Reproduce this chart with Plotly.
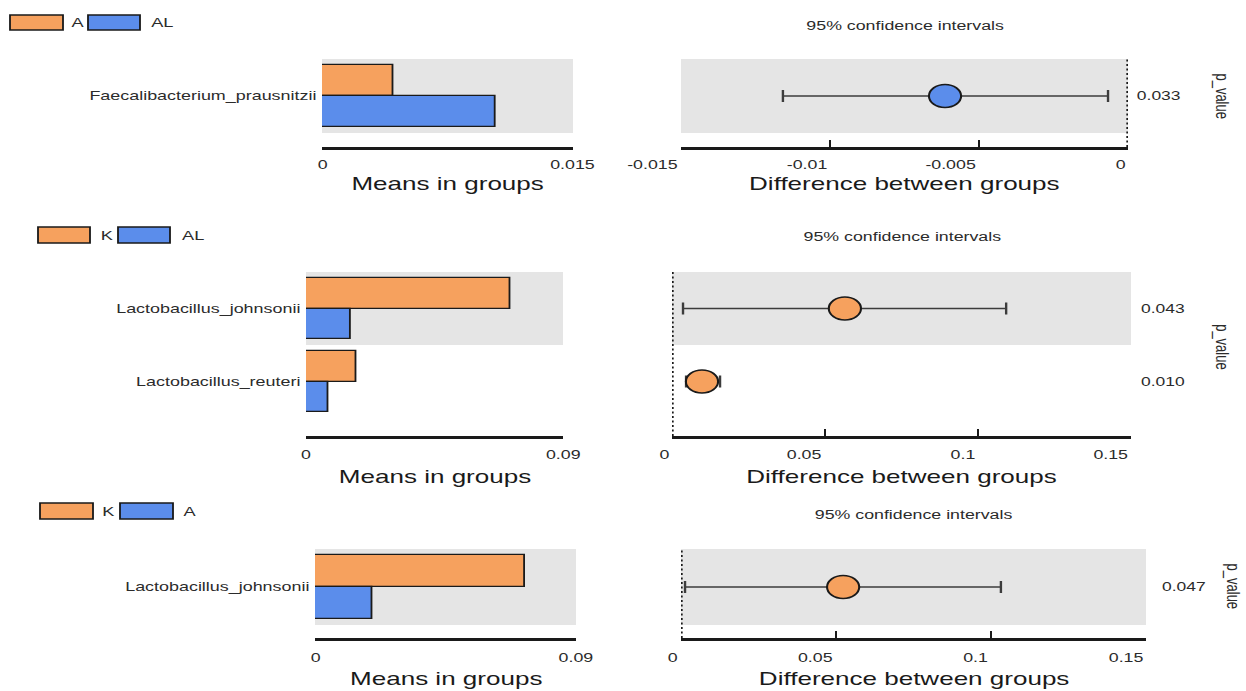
import plotly.graph_objects as go

# ---------------- data ----------------
# Panel 1: A vs AL
groups_1 = ["A", "AL"]
species_1 = ["Faecalibacterium_prausnitzii"]
mean_first_1 = [0.00424]
mean_second_1 = [0.0104]
diff_1 = [-0.00614]
ci_low_1 = [-0.01158]
ci_high_1 = [-0.00067]
pvalue_1 = ["0.033"]
mean_ticks_1 = [0, 0.015]
mean_ticktext_1 = ["0", "0.015"]
diff_ticks_1 = [-0.015, -0.01, -0.005, 0]
diff_ticktext_1 = ["-0.015", "-0.01", "-0.005", "0"]

# Panel 2: K vs AL
groups_2 = ["K", "AL"]
species_2 = ["Lactobacillus_johnsonii", "Lactobacillus_reuteri"]
mean_first_2 = [0.0718, 0.0175]
mean_second_2 = [0.0158, 0.0077]
diff_2 = [0.0565, 0.0098]
ci_low_2 = [0.0036, 0.0046]
ci_high_2 = [0.1092, 0.0157]
pvalue_2 = ["0.043", "0.010"]
mean_ticks_2 = [0, 0.09]
mean_ticktext_2 = ["0", "0.09"]
diff_ticks_2 = [0, 0.05, 0.1, 0.15]
diff_ticktext_2 = ["0", "0.05", "0.1", "0.15"]

# Panel 3: K vs A
groups_3 = ["K", "A"]
species_3 = ["Lactobacillus_johnsonii"]
mean_first_3 = [0.0724]
mean_second_3 = [0.0197]
diff_3 = [0.0523]
ci_low_3 = [0.0013]
ci_high_3 = [0.1032]
pvalue_3 = ["0.047"]
mean_ticks_3 = [0, 0.09]
mean_ticktext_3 = ["0", "0.09"]
diff_ticks_3 = [0, 0.05, 0.1, 0.15]
diff_ticktext_3 = ["0", "0.05", "0.1", "0.15"]

# ---------------- styling ----------------
ORANGE = "#F6A15E"
BLUE = "#5B8DEB"
BAND = "#E5E5E5"
INK = "#1a1a1a"
TXT = "#2b2b2b"
FONT = "Liberation Sans, Arial, sans-serif"

W, H = 1246, 691
STRETCH = 1.4          # horizontal stretch applied to the whole figure
W0 = W / STRETCH


def fx(p):
    return p / W


def fy(p):
    return 1 - p / H


def ax_ref(letter, i):
    return letter if i == 1 else f"{letter}{i}"


def label(**kw):
    base = dict(showarrow=False, xanchor="center", yanchor="middle")
    base.update(kw)
    return base


panels = [
    dict(groups=groups_1, species=species_1, m1=mean_first_1, m2=mean_second_1,
         diff=diff_1, lo=ci_low_1, hi=ci_high_1, pv=pvalue_1,
         mt=mean_ticks_1, mtt=mean_ticktext_1, dt=diff_ticks_1, dtt=diff_ticktext_1,
         bar_x=(322, 573), ci_x=(681, 1128), top=59, band=74, axis=147,
         tick_y=165, title_y=184, ci_title=(905, 26), p_x=1159, pname=(1223, 96),
         legend=((10, 63), (88, 140), 15, 30), leg_txt=(68, 148)),
    dict(groups=groups_2, species=species_2, m1=mean_first_2, m2=mean_second_2,
         diff=diff_2, lo=ci_low_2, hi=ci_high_2, pv=pvalue_2,
         mt=mean_ticks_2, mtt=mean_ticktext_2, dt=diff_ticks_2, dtt=diff_ticktext_2,
         bar_x=(306, 563), ci_x=(672, 1131), top=272, band=73, axis=436,
         tick_y=455, title_y=477, ci_title=(902, 237), p_x=1163, pname=(1222, 347),
         legend=((38, 90), (118, 170), 227, 243), leg_txt=(98, 179)),
    dict(groups=groups_3, species=species_3, m1=mean_first_3, m2=mean_second_3,
         diff=diff_3, lo=ci_low_3, hi=ci_high_3, pv=pvalue_3,
         mt=mean_ticks_3, mtt=mean_ticktext_3, dt=diff_ticks_3, dtt=diff_ticktext_3,
         bar_x=(315, 576), ci_x=(681, 1146), top=549, band=76, axis=638,
         tick_y=658, title_y=678, ci_title=(914, 515), p_x=1184, pname=(1234, 587),
         legend=((40, 93), (120, 173), 503, 519), leg_txt=(100, 181)),
]

fig = go.Figure()
layout = dict(
    width=W0, height=H, autosize=False,
    margin=dict(l=0, r=0, t=0, b=0),
    paper_bgcolor="white", plot_bgcolor="white",
    showlegend=False, font=dict(family=FONT, color=TXT),
    bargap=0, barmode="overlay",
)
shapes, annotations = [], []

axis_common = dict(showgrid=False, zeroline=False, showline=True, linewidth=2.5,
                   linecolor=INK, ticks="inside", ticklen=7, tickwidth=1.5,
                   tickcolor=INK, showticklabels=False, fixedrange=True)

for k, p in enumerate(panels):
    n = len(p["species"])
    idx = [n - 1 - i for i in range(n)]          # first species at the top
    bar_id, ci_id = 2 * k + 1, 2 * k + 2
    xb, yb = ax_ref("x", bar_id), ax_ref("y", bar_id)
    xc, yc = ax_ref("x", ci_id), ax_ref("y", ci_id)

    y_top = n - 0.5
    y_bot = y_top - (p["axis"] - p["top"]) / p["band"]
    ydom = [fy(p["axis"]), fy(p["top"])]

    # ---- means in groups: grouped horizontal bars ----
    fig.add_trace(go.Bar(
        x=p["m1"], y=idx, orientation="h", width=0.415, offset=0,
        marker=dict(color=ORANGE, line=dict(color=INK, width=1.3)),
        name=p["groups"][0], xaxis=xb, yaxis=yb, hoverinfo="skip"))
    fig.add_trace(go.Bar(
        x=p["m2"], y=idx, orientation="h", width=0.415, offset=-0.415,
        marker=dict(color=BLUE, line=dict(color=INK, width=1.3)),
        name=p["groups"][1], xaxis=xb, yaxis=yb, hoverinfo="skip"))

    # ---- difference with 95% CI ----
    colors = [ORANGE if d > 0 else BLUE for d in p["diff"]]
    fig.add_trace(go.Scatter(
        x=p["diff"], y=idx, mode="markers", xaxis=xc, yaxis=yc, hoverinfo="skip",
        marker=dict(size=23, color=colors, line=dict(color=INK, width=1.5)),
        error_x=dict(type="data", symmetric=False,
                     array=[h - d for h, d in zip(p["hi"], p["diff"])],
                     arrayminus=[d - l for d, l in zip(p["diff"], p["lo"])],
                     color="#3c3c3c", thickness=1.7, width=6)))

    mr = [min(p["mt"]), max(p["mt"])]
    dr = [min(p["dt"]), max(p["dt"])]
    layout[ax_ref("xaxis", bar_id)] = dict(axis_common, domain=[fx(p["bar_x"][0]), fx(p["bar_x"][1])],
                                           range=mr, tickvals=p["mt"], anchor=yb)
    layout[ax_ref("yaxis", bar_id)] = dict(domain=ydom, range=[y_bot, y_top], anchor=xb,
                                           showgrid=False, zeroline=False, showline=False,
                                           tickvals=idx, ticktext=p["species"], ticks="",
                                           ticklabelstandoff=3,
                                           tickfont=dict(size=12.8, color=TXT), fixedrange=True)
    layout[ax_ref("xaxis", ci_id)] = dict(axis_common, domain=[fx(p["ci_x"][0]), fx(p["ci_x"][1])],
                                          range=dr, tickvals=p["dt"], anchor=yc)
    layout[ax_ref("yaxis", ci_id)] = dict(domain=ydom, range=[y_bot, y_top], anchor=xc,
                                          showgrid=False, zeroline=False, showline=False,
                                          showticklabels=False, ticks="", fixedrange=True)

    # alternating grey bands behind the shaded rows
    for i, y in enumerate(idx):
        if i % 2 == 0:
            for xr, yr in ((xb, yb), (xc, yc)):
                shapes.append(dict(type="rect", xref=f"{xr} domain", yref=yr,
                                   x0=0, x1=1, y0=y - 0.5, y1=y + 0.5,
                                   fillcolor=BAND, line=dict(width=0), layer="below"))
    # dotted zero reference
    shapes.append(dict(type="line", xref=xc, yref=f"{yc} domain", x0=0, x1=0, y0=0, y1=1,
                       line=dict(color=INK, width=2.4, dash="2px,2.5px"), layer="below"))

    # x tick labels
    for v, t in zip(p["mt"], p["mtt"]):
        annotations.append(label(x=v, xref=xb, y=fy(p["tick_y"]), yref="paper", text=t,
                                 font=dict(size=12.7, color=TXT)))
    for v, t in zip(p["dt"], p["dtt"]):
        annotations.append(label(x=v, xref=xc, y=fy(p["tick_y"]), yref="paper", text=t,
                                 xanchor="right", font=dict(size=12.7, color=TXT)))
    # axis titles
    annotations.append(label(x=0.5, xref=f"{xb} domain", y=fy(p["title_y"]), yref="paper",
                             text="Means in groups", font=dict(size=18.6, color=INK)))
    annotations.append(label(x=0.5, xref=f"{xc} domain", y=fy(p["title_y"]), yref="paper",
                             text="Difference between groups", font=dict(size=18.6, color=INK)))
    annotations.append(label(x=fx(p["ci_title"][0]), xref="paper", y=fy(p["ci_title"][1]),
                             yref="paper", text="95% confidence intervals",
                             font=dict(size=12.7, color=TXT)))
    # p values
    for y, t in zip(idx, p["pv"]):
        annotations.append(label(x=fx(p["p_x"]), xref="paper", y=y, yref=yc, text=t,
                                 font=dict(size=12.5, color=TXT)))
    annotations.append(label(x=fx(p["pname"][0]), xref="paper", y=fy(p["pname"][1]),
                             yref="paper", text="p_value", textangle=90,
                             font=dict(size=13, color=TXT)))

    # group key
    (a0, a1), (b0, b1), ly0, ly1 = p["legend"]
    for (x0, x1), col, tx, name in (((a0, a1), ORANGE, p["leg_txt"][0], p["groups"][0]),
                                    ((b0, b1), BLUE, p["leg_txt"][1], p["groups"][1])):
        shapes.append(dict(type="rect", xref="paper", yref="paper",
                           x0=fx(x0), x1=fx(x1), y0=fy(ly1), y1=fy(ly0),
                           fillcolor=col, line=dict(color=INK, width=1.3)))
        annotations.append(label(x=fx(tx), xref="paper", y=fy((ly0 + ly1) / 2), yref="paper",
                                 text=name, xanchor="left", font=dict(size=13, color=TXT)))

layout["shapes"] = shapes
layout["annotations"] = annotations
fig.update_layout(**layout)

stretch_js = (
    "var gd=document.getElementById('{plot_id}');"
    "document.documentElement.style.margin='0';document.body.style.margin='0';"
    "document.body.style.overflow='hidden';"
    "gd.style.transformOrigin='0 0';gd.style.transform='scaleX(%s)';" % STRETCH
)
fig.write_html("out.html", default_width=f"{W0:.2f}px", default_height=f"{H}px",
               post_script=stretch_js, config={"displayModeBar": False})
